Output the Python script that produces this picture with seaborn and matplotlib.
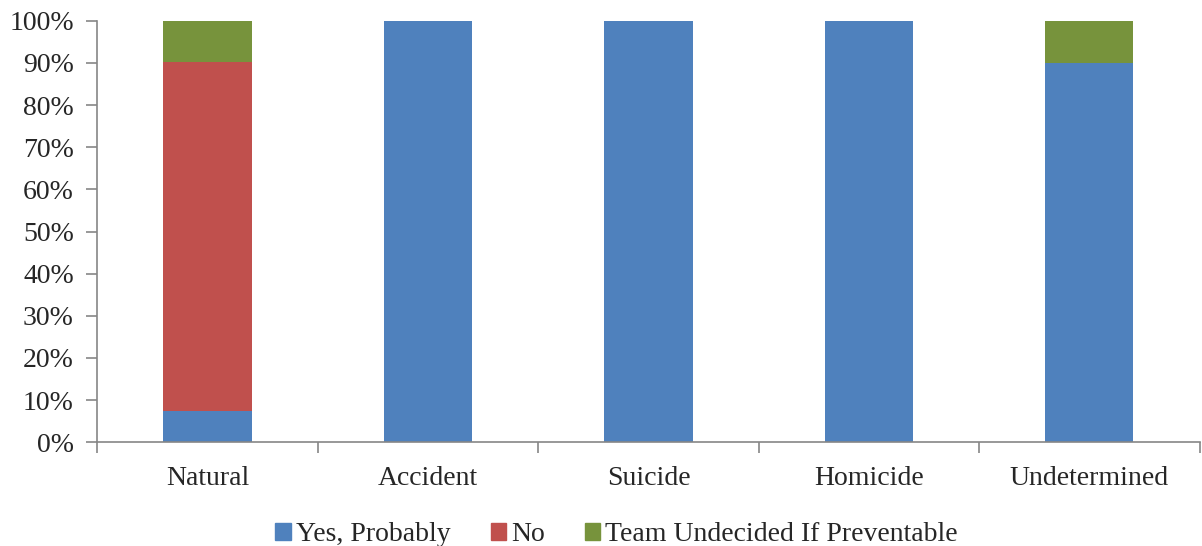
import seaborn as sns
import matplotlib.pyplot as plt
import matplotlib.ticker as mticker
from matplotlib.patches import Patch
import numpy as np
import pandas as pd

categories = ["Natural", "Accident", "Suicide", "Homicide", "Undetermined"]
yes_probably = [7.4, 100, 100, 100, 90]
no = [82.9, 0, 0, 0, 0]
undecided = [9.7, 0, 0, 0, 10]

series_names = ["Yes, Probably", "No", "Team Undecided If Preventable"]
colors = ["#4F81BD", "#C0504D", "#77933C"]

sns.set_style("white")
plt.rcParams["font.family"] = ["Liberation Serif", "DejaVu Serif"]

df = pd.DataFrame({"Category": categories, "Yes": yes_probably, "No": no, "Und": undecided})
df["c1"] = df["Yes"]
df["c2"] = df["Yes"] + df["No"]
df["c3"] = df["c2"] + df["Und"]

fig, ax = plt.subplots(figsize=(12.02, 5.46), dpi=100)

# stacked bars drawn as cumulative totals, tallest first
for col, color in zip(["c3", "c2", "c1"], colors[::-1]):
    sns.barplot(data=df, x="Category", y=col, color=color, width=0.4,
                saturation=1, ax=ax, order=categories, linewidth=0)

ax.set_ylim(0, 100)
ax.set_xlim(-0.5, 4.5)
ax.yaxis.set_major_locator(mticker.MultipleLocator(10))
ax.yaxis.set_major_formatter(mticker.FuncFormatter(lambda v, p: f"{v:.0f}%"))
ax.set_xlabel("")
ax.set_ylabel("")

# category boundary ticks
ax.set_xticks(np.arange(-0.5, 5, 1), minor=True)
ax.tick_params(axis="x", which="major", length=0, labelsize=20, pad=17)
ax.tick_params(axis="x", which="minor", length=8, color="#868686", width=1.2, direction="out", bottom=True)
ax.tick_params(axis="y", length=8, color="#868686", width=1.2, labelsize=20, pad=9,
               direction="out", left=True)

for side in ["top", "right"]:
    ax.spines[side].set_visible(False)
for side in ["left", "bottom"]:
    ax.spines[side].set_color("#868686")
    ax.spines[side].set_linewidth(1.2)

handles = [Patch(color=c, label=n) for c, n in zip(colors, series_names)]
ax.legend(handles=handles, loc="center", bbox_to_anchor=(0.471, -0.22), ncol=3,
          frameon=False, fontsize=20, handlelength=0.55, handleheight=0.55,
          handletextpad=0.18, columnspacing=1.45)

plt.subplots_adjust(left=0.081, right=0.998, top=0.962, bottom=0.19)
plt.savefig("out.png", dpi=100)
plt.close()
